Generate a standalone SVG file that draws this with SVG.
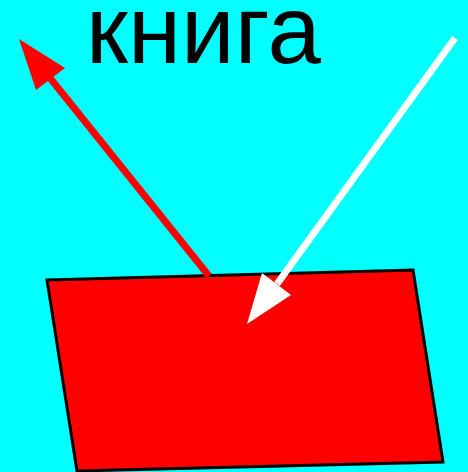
<svg xmlns="http://www.w3.org/2000/svg" width="468" height="472" viewBox="0 0 468 472">
<style>
.lbl{font-family:"Liberation Sans",Arial,sans-serif;font-size:96px;fill:#000}
</style>
<rect x="0" y="0" width="468" height="472" fill="#00ffff"/>
<g id="book">
<polygon points="47,280 413,270 443,462 77,471" fill="#ff0000" stroke="#000" stroke-width="3"/>
</g>
<g id="label">
<text class="lbl" x="86" y="63">книга</text>
</g>
<g id="connectors">
<line x1="209" y1="276" x2="50" y2="78" stroke="#ff0000" stroke-width="7"/>
<polygon points="19,39 65,68 36,90" fill="#ff0000"/>
<line x1="455" y1="38" x2="277" y2="284" stroke="#ffffff" stroke-width="7"/>
<polygon points="247,324 262,273 291,295" fill="#ffffff"/>
</g>
</svg>
